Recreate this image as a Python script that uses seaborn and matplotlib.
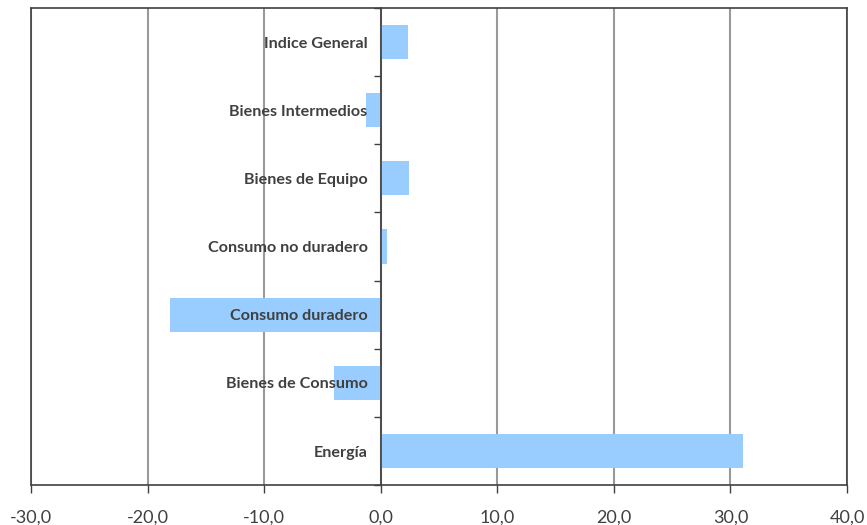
import matplotlib
matplotlib.use("Agg")
import matplotlib.pyplot as plt
import matplotlib.ticker as mticker
import seaborn as sns
import pandas as pd

categories = ["Indice General", "Bienes Intermedios", "Bienes de Equipo",
              "Consumo no duradero", "Consumo duradero", "Bienes de Consumo", "Energía"]
values = [2.3, -1.3, 2.4, 0.5, -18.1, -4.0, 31.1]
xticks = [-30, -20, -10, 0, 10, 20, 30, 40]

df = pd.DataFrame({"cat": categories, "val": values})

sns.set_theme(style="white")
plt.rcParams["font.family"] = ["Lato", "DejaVu Sans"]

fig = plt.figure(figsize=(8.67, 5.25), dpi=100)
ax = fig.add_axes([31 / 867, 1 - 485 / 525, (847 - 31) / 867, (485 - 8) / 525])

sns.barplot(data=df, x="val", y="cat", orient="h", color="#99CCFF",
            saturation=1, width=0.5, ax=ax, zorder=2, linewidth=0, edgecolor="none")

ax.set_xlim(xticks[0], xticks[-1])
ax.set_ylim(len(categories) - 0.5, -0.5)
ax.set_xticks(xticks)
ax.xaxis.set_major_formatter(mticker.FuncFormatter(lambda v, p: f"{v:.1f}".replace(".", ",")))
ax.grid(axis="x", color="#999999", linewidth=1.5, zorder=1)
ax.set_axisbelow(True)
ax.set_xlabel("")
ax.set_ylabel("")

# y axis at zero with tick marks between categories
ax.spines["left"].set_position(("data", 0))
ax.spines["left"].set_color("#404040")
ax.spines["left"].set_linewidth(1.2)
ax.spines["left"].set_zorder(3)
ax.set_yticks([i - 0.5 for i in range(len(categories) + 1)])
ax.set_yticklabels([])
ax.tick_params(axis="y", direction="out", length=5, width=1, color="#404040", left=True)
ax.tick_params(axis="x", direction="out", length=6, width=1, color="#404040", bottom=True,
               labelsize=13, labelcolor="#404040", pad=12)

for s in ["top", "right", "bottom"]:
    ax.spines[s].set_color("#404040")
    ax.spines[s].set_linewidth(1.2)
# left frame edge
ax.axvline(xticks[0], color="#404040", linewidth=1.2, zorder=3, clip_on=False)

for i, c in enumerate(categories):
    ax.annotate(c, xy=(0, i), xytext=(-9.5, -1.2), textcoords="offset points",
                ha="right", va="center", fontsize=11.6, fontweight="bold",
                color="#404040", zorder=4)

fig.savefig("out.png", dpi=100)
